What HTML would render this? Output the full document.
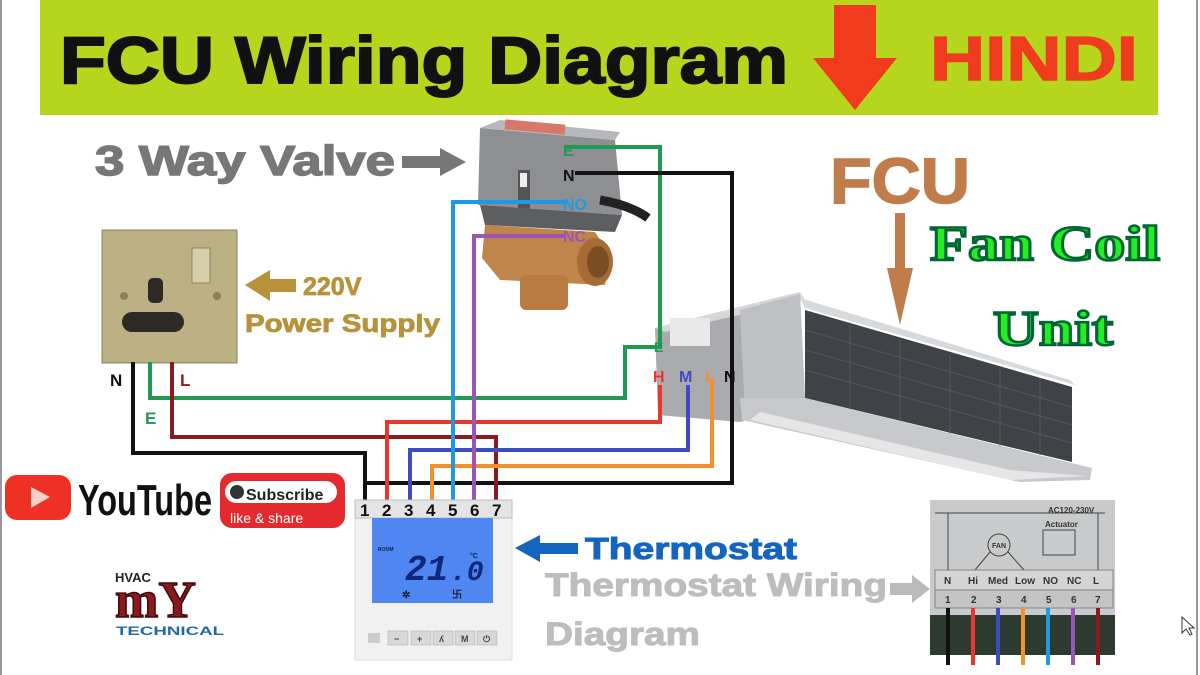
<!DOCTYPE html>
<html><head><meta charset="utf-8"><style>
html,body{margin:0;padding:0;background:#fff;}
svg{display:block}
text{font-family:"Liberation Sans",sans-serif;font-weight:bold}
</style></head><body>
<svg width="1200" height="675" viewBox="0 0 1200 675" xmlns="http://www.w3.org/2000/svg">
<rect width="1200" height="675" fill="#fff"/>
<line x1="1" y1="0" x2="1" y2="675" stroke="#999" stroke-width="2"/>
<line x1="1197" y1="0" x2="1197" y2="675" stroke="#999" stroke-width="2"/>
<!-- title bar -->
<rect x="40" y="0" width="1118" height="115" fill="#b6d51d"/>
<text x="60" y="83" font-size="66" fill="#111" stroke="#111" stroke-width="2" textLength="728" lengthAdjust="spacingAndGlyphs">FCU Wiring Diagram</text>
<polygon points="834,5 876,5 876,58 897,58 855,110 813,58 834,58" fill="#f23b1d"/>
<text x="930" y="80" font-size="62" fill="#f03c1e" stroke="#f03c1e" stroke-width="1.5" textLength="208" lengthAdjust="spacingAndGlyphs">HINDI</text>

<!-- 3 way valve label -->
<text x="95" y="175" font-size="42" fill="#777" stroke="#777" stroke-width="1.5" textLength="300" lengthAdjust="spacingAndGlyphs">3 Way Valve</text>
<polygon points="402,156 440,156 440,148 466,162 440,176 440,168 402,168" fill="#777"/>

<!-- FCU label -->
<text x="830" y="203" font-size="64" fill="#c07c4b" stroke="#c07c4b" stroke-width="1.5" textLength="140" lengthAdjust="spacingAndGlyphs">FCU</text>
<rect x="895" y="213" width="10" height="60" fill="#c07c4b"/>
<polygon points="887,268 913,268 900,325" fill="#c07c4b"/>
<text x="930" y="260" font-size="50" fill="#22ee22" stroke="#063" stroke-width="2.5" textLength="230" lengthAdjust="spacingAndGlyphs" style="font-family:'Liberation Serif',serif">Fan Coil</text>
<text x="993" y="345" font-size="50" fill="#22ee22" stroke="#063" stroke-width="2.5" textLength="120" lengthAdjust="spacingAndGlyphs" style="font-family:'Liberation Serif',serif">Unit</text>

<!-- FCU body -->
<polygon points="655,328 800,292 805,400 740,422 658,415" fill="#a9abae"/>
<polygon points="655,328 800,292 805,300 665,332" fill="#d6d7d9"/>
<rect x="670" y="318" width="40" height="28" fill="#e8e8e8"/>
<polygon points="740,310 800,294 805,400 745,415" fill="#bfc0c3"/>
<polygon points="800,298 1070,380 1075,385 805,308" fill="#d8d9db"/>
<polygon points="805,310 1072,387 1072,462 805,398" fill="#3f4246"/>
<g stroke="#55595e" stroke-width="1">
<line x1="805" y1="330" x2="1072" y2="407"/><line x1="805" y1="350" x2="1072" y2="425"/><line x1="805" y1="370" x2="1072" y2="443"/>
<line x1="850" y1="325" x2="850" y2="410"/><line x1="900" y1="340" x2="900" y2="422"/><line x1="950" y1="354" x2="950" y2="434"/><line x1="1000" y1="368" x2="1000" y2="446"/><line x1="1040" y1="378" x2="1040" y2="455"/>
</g>
<polygon points="740,398 805,398 1092,468 1090,480 1020,482 742,420" fill="#c8c9cc"/>
<polygon points="760,412 1010,470 1088,476 1010,480 750,420" fill="#e6e6e7"/>

<!-- valve -->
<polygon points="480,128 615,140 622,215 478,205" fill="#8d8f92"/>
<polygon points="480,128 500,120 620,132 615,140" fill="#b7b8ba"/>
<rect x="505" y="122" width="60" height="10" fill="#d9776a" transform="rotate(5 535 127)"/>
<rect x="518" y="170" width="12" height="40" fill="#555"/>
<rect x="520" y="173" width="7" height="14" fill="#eee"/>
<polygon points="480,205 622,215 615,232 485,225" fill="#5c5e60"/>
<path d="M600,200 Q630,205 648,218" stroke="#222" stroke-width="9" fill="none"/>
<polygon points="485,225 595,232 610,255 605,285 500,280 482,258" fill="#c0854a"/>
<ellipse cx="595" cy="262" rx="18" ry="24" fill="#a76c35"/>
<ellipse cx="598" cy="262" rx="11" ry="16" fill="#7a4d22"/>
<rect x="520" y="275" width="48" height="35" rx="6" fill="#b97b41"/>

<!-- socket -->
<rect x="102" y="230" width="135" height="133" fill="#bcb185" stroke="#8c8460"/>
<rect x="148" y="278" width="15" height="25" rx="5" fill="#2c2a25"/>
<rect x="122" y="312" width="62" height="20" rx="10" fill="#2c2a25"/>
<rect x="192" y="248" width="18" height="35" fill="#d6cfae" stroke="#8c8460"/>
<circle cx="124" cy="296" r="4" fill="#8a7f59"/><circle cx="217" cy="296" r="4" fill="#8a7f59"/>
<polygon points="245,285 270,270 270,279 296,279 296,292 270,292 270,301" fill="#b8923a"/>
<text x="303" y="295" font-size="25" fill="#b8923a" stroke="#b8923a" stroke-width="0.8">220V</text>
<text x="245" y="332" font-size="25" fill="#b8923a" stroke="#b8923a" stroke-width="0.8" textLength="195" lengthAdjust="spacingAndGlyphs">Power Supply</text>

<!-- wires -->
<g fill="none" stroke-width="4" stroke-linejoin="miter">
<polyline points="150,362 150,398 625,398 625,347 662,347" stroke="#1f9a52"/>
<polyline points="565,147 660,147 660,345" stroke="#1f9a52"/>
<polyline points="133,362 133,453 365,453 365,502" stroke="#111"/>
<polyline points="575,173 732,173 732,483 365,483" stroke="#111"/>
<polyline points="172,362 172,437 496,437 496,502" stroke="#8b1a1f"/>
<polyline points="660,385 660,422 387,422 387,502" stroke="#e8372c"/>
<polyline points="688,385 688,450 410,450 410,502" stroke="#3d4cc0"/>
<polyline points="712,378 712,466 432,466 432,502" stroke="#f39130"/>
<polyline points="565,202 453,202 453,502" stroke="#1e9be0"/>
<polyline points="565,236 474,236 474,502" stroke="#9a56b0"/>
</g>
<text x="563" y="156" font-size="16" fill="#1f9a52">E</text>
<text x="563" y="181" font-size="16" fill="#111">N</text>
<text x="563" y="210" font-size="16" fill="#1e9be0">NO</text>
<text x="563" y="242" font-size="16" fill="#9a56b0">NC</text>
<text x="654" y="352" font-size="14" fill="#1f9a52">E</text>
<text x="653" y="382" font-size="16" fill="#e8372c">H</text>
<text x="679" y="382" font-size="16" fill="#3d4cc0">M</text>
<text x="705" y="382" font-size="16" fill="#f39130">L</text>
<text x="724" y="382" font-size="16" fill="#111">N</text>
<text x="110" y="386" font-size="17" fill="#111">N</text>
<text x="180" y="386" font-size="17" fill="#8b1a1f">L</text>
<text x="145" y="424" font-size="17" fill="#1f9a52">E</text>

<!-- thermostat -->
<rect x="355" y="500" width="157" height="160" fill="#f1f1f1" stroke="#ddd"/>
<rect x="355" y="500" width="157" height="18" fill="#e4e4e4" stroke="#bbb"/>
<g font-size="17" fill="#111">
<text x="360" y="516">1</text><text x="382" y="516">2</text><text x="404" y="516">3</text><text x="426" y="516">4</text><text x="448" y="516">5</text><text x="470" y="516">6</text><text x="492" y="516">7</text>
</g>
<rect x="372" y="518" width="121" height="85" fill="#4f86f2"/>
<text x="378" y="551" font-size="5" fill="#123">ROOM</text>
<text x="405" y="580" font-size="36" fill="#10287a" font-style="italic" style="font-family:'Liberation Mono',monospace">21</text>
<text x="450" y="580" font-size="28" fill="#10287a" font-style="italic" style="font-family:'Liberation Mono',monospace">.0</text>
<text x="470" y="558" font-size="7" fill="#123">°C</text>
<text x="402" y="598" font-size="10" fill="#123">✲</text>
<text x="452" y="598" font-size="10" fill="#123">卐</text>
<g fill="#d8d8d8" stroke="#aaa" stroke-width=".5">
<rect x="388" y="631" width="20" height="14"/><rect x="411" y="631" width="20" height="14"/><rect x="433" y="631" width="20" height="14"/><rect x="455" y="631" width="20" height="14"/><rect x="477" y="631" width="20" height="14"/>
</g>
<g font-size="9" fill="#444"><text x="394" y="642">−</text><text x="417" y="642">+</text><text x="439" y="642">ʎ</text><text x="461" y="642">M</text><text x="483" y="642">⏻</text></g>
<rect x="368" y="633" width="12" height="10" fill="#ccc"/>

<polygon points="515,548 540,535 540,543 578,543 578,554 540,554 540,562" fill="#1565c0"/>
<text x="585" y="559" font-size="31" fill="#1565c0" stroke="#1565c0" stroke-width="1" textLength="212" lengthAdjust="spacingAndGlyphs">Thermostat</text>
<text x="545" y="596" font-size="32" fill="#bdbdbd" stroke="#bdbdbd" stroke-width="1" textLength="342" lengthAdjust="spacingAndGlyphs">Thermostat Wiring</text>
<text x="545" y="645" font-size="32" fill="#bdbdbd" stroke="#bdbdbd" stroke-width="1" textLength="155" lengthAdjust="spacingAndGlyphs">Diagram</text>
<polygon points="890,583 912,583 912,575 930,589 912,603 912,595 890,595" fill="#bbb"/>

<!-- wiring diagram photo -->
<rect x="930" y="500" width="185" height="155" fill="#c9cacb"/>
<rect x="930" y="615" width="185" height="40" fill="#2c3a30"/>
<g stroke="#444" stroke-width="1" fill="none">
<line x1="935" y1="513" x2="1105" y2="513"/><line x1="948" y1="513" x2="948" y2="570"/>
<circle cx="999" cy="545" r="11"/><line x1="975" y1="570" x2="990" y2="552"/><line x1="1024" y1="570" x2="1008" y2="552"/>
<rect x="1043" y="530" width="32" height="25"/><line x1="1098" y1="513" x2="1098" y2="570"/>
</g>
<rect x="935" y="570" width="178" height="20" fill="#d4d4d4" stroke="#777" stroke-width=".8"/>
<rect x="935" y="590" width="178" height="18" fill="#c4c4c4" stroke="#777" stroke-width=".8"/>
<g font-size="10" fill="#333" style="font-weight:normal">
<text x="944" y="584">N</text><text x="968" y="584">Hi</text><text x="988" y="584">Med</text><text x="1015" y="584">Low</text><text x="1043" y="584">NO</text><text x="1067" y="584">NC</text><text x="1093" y="584">L</text>
<text x="945" y="603">1</text><text x="971" y="603">2</text><text x="996" y="603">3</text><text x="1021" y="603">4</text><text x="1046" y="603">5</text><text x="1071" y="603">6</text><text x="1095" y="603">7</text>
<text x="1048" y="513" font-size="8">AC120-230V</text><text x="1045" y="527" font-size="8">Actuator</text><text x="992" y="548" font-size="7">FAN</text>
</g>
<g stroke-width="4">
<line x1="948" y1="608" x2="948" y2="665" stroke="#111"/><line x1="973" y1="608" x2="973" y2="665" stroke="#e8372c"/><line x1="998" y1="608" x2="998" y2="665" stroke="#3d4cc0"/><line x1="1023" y1="608" x2="1023" y2="665" stroke="#f39130"/><line x1="1048" y1="608" x2="1048" y2="665" stroke="#1e9be0"/><line x1="1073" y1="608" x2="1073" y2="665" stroke="#9a56b0"/><line x1="1098" y1="608" x2="1098" y2="665" stroke="#8b1a1f"/>
</g>
<polygon points="1182,617 1182,633 1186,629 1190,635 1192,634 1189,628 1194,628" fill="#fff" stroke="#333"/>

<!-- youtube -->
<rect x="5" y="475" width="66" height="45" rx="12" fill="#ee3124"/>
<polygon points="31,487 31,508 50,497" fill="#f4d0c8"/>
<text x="78" y="515" font-size="44" fill="#111" textLength="134" lengthAdjust="spacingAndGlyphs">YouTube</text>
<rect x="220" y="473" width="125" height="55" rx="12" fill="#e42a2e"/>
<rect x="225" y="481" width="112" height="22" rx="11" fill="#fff"/>
<circle cx="237" cy="492" r="7" fill="#333"/>
<text x="246" y="500" font-size="16" fill="#222">Subscribe</text>
<text x="230" y="523" font-size="14" fill="#fff" style="font-weight:normal">like &amp; share</text>

<!-- logo -->
<text x="115" y="582" font-size="13" fill="#222">HVAC</text>
<text x="115" y="617" font-size="52" fill="#8b1a1f" stroke="#3a0a0c" stroke-width="1.5" style="font-family:'Liberation Serif',serif">mY</text>
<text x="116" y="635" font-size="12" fill="#1e6aa8" textLength="108" lengthAdjust="spacingAndGlyphs">TECHNICAL</text>
</svg>
</body></html>
